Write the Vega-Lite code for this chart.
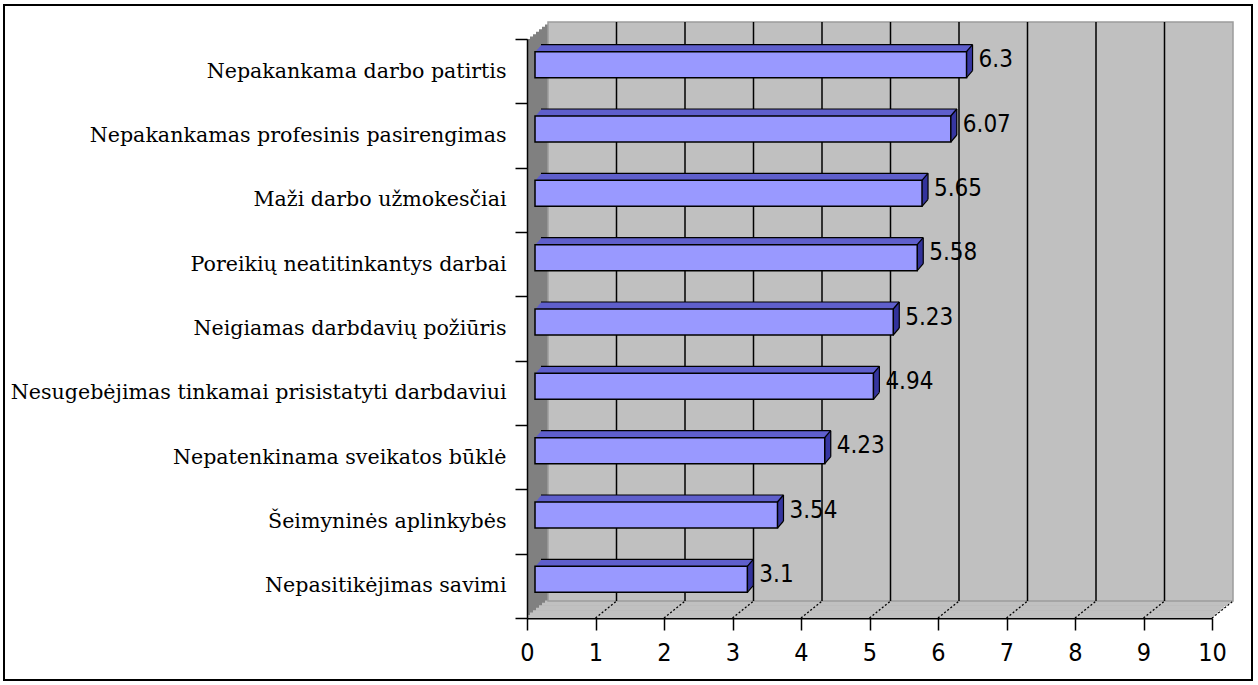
{
  "$schema": "https://vega.github.io/schema/vega-lite/v6.json",
  "width": 1248,
  "height": 675,
  "autosize": "none",
  "padding": {"left": 4, "top": 5, "right": 6, "bottom": 5},
  "background": "white",
  "config": {
    "view": {"stroke": "black", "strokeWidth": 2},
    "axis": {"grid": false, "domainColor": "black", "tickColor": "black", "labelColor": "black"}
  },
  "datasets": {
    "causes": [
      {"cause": "Nepakankama darbo patirtis", "value": 6.3},
      {"cause": "Nepakankamas profesinis pasirengimas", "value": 6.07},
      {"cause": "Maži darbo užmokesčiai", "value": 5.65},
      {"cause": "Poreikių neatitinkantys darbai", "value": 5.58},
      {"cause": "Neigiamas darbdavių požiūris", "value": 5.23},
      {"cause": "Nesugebėjimas tinkamai prisistatyti darbdaviui", "value": 4.94},
      {"cause": "Nepatenkinama sveikatos būklė", "value": 4.23},
      {"cause": "Šeimyninės aplinkybės", "value": 3.54},
      {"cause": "Nepasitikėjimas savimi", "value": 3.1}
    ],
    "ticks": [{"t": 1}, {"t": 2}, {"t": 3}, {"t": 4}, {"t": 5}, {"t": 6}, {"t": 7}, {"t": 8}, {"t": 9}, {"t": 10}],
    "frame": [{}]
  },
  "layer": [
    {
      "data": {"name": "frame"},
      "mark": {"type": "rect", "fill": "#808080", "xOffset": 0, "x2Offset": 0, "yOffset": 0, "y2Offset": 0},
      "encoding": {
        "x": {"datum": 0, "type": "quantitative",
          "scale": {"domain": [0, 10], "range": [523, 1208], "nice": false, "zero": false},
          "axis": {"orient": "bottom", "offset": -62, "title": null, "values": [0, 1, 2, 3, 4, 5, 6, 7, 8, 9, 10], "format": "d",
            "tickSize": 12, "tickWidth": 1.5, "domainWidth": 2, "labelPadding": 10, "labelFlush": false,
            "labelFont": "'Liberation Sans Narrow', 'DejaVu Sans Condensed', 'Liberation Sans', sans-serif", "labelFontSize": 25}},
        "x2": {"datum": 10},
        "y": {"datum": "Nepakankama darbo patirtis", "type": "nominal", "bandPosition": 0,
          "scale": {"domain": ["Nepakankama darbo patirtis", "Nepakankamas profesinis pasirengimas", "Maži darbo užmokesčiai", "Poreikių neatitinkantys darbai", "Neigiamas darbdavių požiūris", "Nesugebėjimas tinkamai prisistatyti darbdaviui", "Nepatenkinama sveikatos būklė", "Šeimyninės aplinkybės", "Nepasitikėjimas savimi"],
            "range": [34, 613], "paddingInner": 0, "paddingOuter": 0},
          "axis": {"orient": "left", "offset": -523, "title": null, "tickBand": "extent", "tickSize": 12, "tickWidth": 1.5,
            "domainWidth": 1.5, "labelPadding": 9, "labelLimit": 0, "labelFont": "DejaVu Serif", "labelFontSize": 20.6}},
        "y2": {"datum": "Nepasitikėjimas savimi", "bandPosition": 1}
      }
    },
    {"data": {"name": "frame"}, "mark": {"type": "rect", "fill": "#808080", "xOffset": 3, "x2Offset": 3, "yOffset": -2.43, "y2Offset": -2.43},
     "encoding": {"x": {"datum": 0, "type": "quantitative"}, "x2": {"datum": 10}, "y": {"datum": "Nepakankama darbo patirtis", "type": "nominal", "bandPosition": 0}, "y2": {"datum": "Nepasitikėjimas savimi", "bandPosition": 1}}},
    {"data": {"name": "frame"}, "mark": {"type": "rect", "fill": "#808080", "xOffset": 6, "x2Offset": 6, "yOffset": -4.86, "y2Offset": -4.86},
     "encoding": {"x": {"datum": 0, "type": "quantitative"}, "x2": {"datum": 10}, "y": {"datum": "Nepakankama darbo patirtis", "type": "nominal", "bandPosition": 0}, "y2": {"datum": "Nepasitikėjimas savimi", "bandPosition": 1}}},
    {"data": {"name": "frame"}, "mark": {"type": "rect", "fill": "#808080", "xOffset": 9, "x2Offset": 9, "yOffset": -7.29, "y2Offset": -7.29},
     "encoding": {"x": {"datum": 0, "type": "quantitative"}, "x2": {"datum": 10}, "y": {"datum": "Nepakankama darbo patirtis", "type": "nominal", "bandPosition": 0}, "y2": {"datum": "Nepasitikėjimas savimi", "bandPosition": 1}}},
    {"data": {"name": "frame"}, "mark": {"type": "rect", "fill": "#808080", "xOffset": 12, "x2Offset": 12, "yOffset": -9.71, "y2Offset": -9.71},
     "encoding": {"x": {"datum": 0, "type": "quantitative"}, "x2": {"datum": 10}, "y": {"datum": "Nepakankama darbo patirtis", "type": "nominal", "bandPosition": 0}, "y2": {"datum": "Nepasitikėjimas savimi", "bandPosition": 1}}},
    {"data": {"name": "frame"}, "mark": {"type": "rect", "fill": "#808080", "xOffset": 15, "x2Offset": 15, "yOffset": -12.14, "y2Offset": -12.14},
     "encoding": {"x": {"datum": 0, "type": "quantitative"}, "x2": {"datum": 10}, "y": {"datum": "Nepakankama darbo patirtis", "type": "nominal", "bandPosition": 0}, "y2": {"datum": "Nepasitikėjimas savimi", "bandPosition": 1}}},
    {"data": {"name": "frame"}, "mark": {"type": "rect", "fill": "#808080", "xOffset": 18, "x2Offset": 18, "yOffset": -14.57, "y2Offset": -14.57},
     "encoding": {"x": {"datum": 0, "type": "quantitative"}, "x2": {"datum": 10}, "y": {"datum": "Nepakankama darbo patirtis", "type": "nominal", "bandPosition": 0}, "y2": {"datum": "Nepasitikėjimas savimi", "bandPosition": 1}}},

    {"data": {"name": "frame"}, "mark": {"type": "rect", "fill": "#c0c0c0", "xOffset": 0, "x2Offset": 0, "yOffset": -3, "y2Offset": 0},
     "encoding": {"x": {"datum": 0, "type": "quantitative"}, "x2": {"datum": 10}, "y": {"datum": "Nepasitikėjimas savimi", "type": "nominal", "bandPosition": 1}, "y2": {"datum": "Nepasitikėjimas savimi", "bandPosition": 1}}},
    {"data": {"name": "frame"}, "mark": {"type": "rect", "fill": "#c0c0c0", "xOffset": 3, "x2Offset": 3, "yOffset": -5.43, "y2Offset": -2.43},
     "encoding": {"x": {"datum": 0, "type": "quantitative"}, "x2": {"datum": 10}, "y": {"datum": "Nepasitikėjimas savimi", "type": "nominal", "bandPosition": 1}, "y2": {"datum": "Nepasitikėjimas savimi", "bandPosition": 1}}},
    {"data": {"name": "frame"}, "mark": {"type": "rect", "fill": "#c0c0c0", "xOffset": 6, "x2Offset": 6, "yOffset": -7.86, "y2Offset": -4.86},
     "encoding": {"x": {"datum": 0, "type": "quantitative"}, "x2": {"datum": 10}, "y": {"datum": "Nepasitikėjimas savimi", "type": "nominal", "bandPosition": 1}, "y2": {"datum": "Nepasitikėjimas savimi", "bandPosition": 1}}},
    {"data": {"name": "frame"}, "mark": {"type": "rect", "fill": "#c0c0c0", "xOffset": 9, "x2Offset": 9, "yOffset": -10.29, "y2Offset": -7.29},
     "encoding": {"x": {"datum": 0, "type": "quantitative"}, "x2": {"datum": 10}, "y": {"datum": "Nepasitikėjimas savimi", "type": "nominal", "bandPosition": 1}, "y2": {"datum": "Nepasitikėjimas savimi", "bandPosition": 1}}},
    {"data": {"name": "frame"}, "mark": {"type": "rect", "fill": "#c0c0c0", "xOffset": 12, "x2Offset": 12, "yOffset": -12.71, "y2Offset": -9.71},
     "encoding": {"x": {"datum": 0, "type": "quantitative"}, "x2": {"datum": 10}, "y": {"datum": "Nepasitikėjimas savimi", "type": "nominal", "bandPosition": 1}, "y2": {"datum": "Nepasitikėjimas savimi", "bandPosition": 1}}},
    {"data": {"name": "frame"}, "mark": {"type": "rect", "fill": "#c0c0c0", "xOffset": 15, "x2Offset": 15, "yOffset": -15.14, "y2Offset": -12.14},
     "encoding": {"x": {"datum": 0, "type": "quantitative"}, "x2": {"datum": 10}, "y": {"datum": "Nepasitikėjimas savimi", "type": "nominal", "bandPosition": 1}, "y2": {"datum": "Nepasitikėjimas savimi", "bandPosition": 1}}},
    {"data": {"name": "frame"}, "mark": {"type": "rect", "fill": "#c0c0c0", "xOffset": 18, "x2Offset": 18, "yOffset": -17.57, "y2Offset": -14.57},
     "encoding": {"x": {"datum": 0, "type": "quantitative"}, "x2": {"datum": 10}, "y": {"datum": "Nepasitikėjimas savimi", "type": "nominal", "bandPosition": 1}, "y2": {"datum": "Nepasitikėjimas savimi", "bandPosition": 1}}},

    {"data": {"name": "frame"}, "mark": {"type": "rect", "fill": "#c0c0c0", "stroke": "#9c9c9c", "strokeWidth": 1.5, "xOffset": 21, "x2Offset": 21, "yOffset": -17, "y2Offset": -17},
     "encoding": {"x": {"datum": 0, "type": "quantitative"}, "x2": {"datum": 10}, "y": {"datum": "Nepakankama darbo patirtis", "type": "nominal", "bandPosition": 0}, "y2": {"datum": "Nepasitikėjimas savimi", "bandPosition": 1}}},

    {"data": {"name": "ticks"}, "transform": [{"filter": "datum.t < 10"}],
     "mark": {"type": "rule", "color": "black", "strokeWidth": 1.5, "xOffset": 21, "yOffset": -17, "y2Offset": -17},
     "encoding": {"x": {"field": "t", "type": "quantitative", "axis": {"title": null}}, "y": {"datum": "Nepakankama darbo patirtis", "type": "nominal", "bandPosition": 0}, "y2": {"datum": "Nepasitikėjimas savimi", "bandPosition": 1}}},

    {"data": {"name": "ticks"},
     "mark": {"type": "rule", "color": "black", "strokeWidth": 1.3, "strokeDash": [2, 2], "xOffset": 0, "x2Offset": 21, "yOffset": 0, "y2Offset": -17},
     "encoding": {"x": {"field": "t", "type": "quantitative", "axis": {"title": null}}, "x2": {"field": "t"}, "y": {"datum": "Nepasitikėjimas savimi", "type": "nominal", "bandPosition": 1}, "y2": {"datum": "Nepasitikėjimas savimi", "bandPosition": 1}}},

    {"data": {"name": "causes"}, "mark": {"type": "rect", "fill": "#5f5fcc", "height": 26, "xOffset": 9, "x2Offset": 9, "yOffset": -7.67},
     "encoding": {"x": {"field": "value", "type": "quantitative", "axis": {"title": null}}, "x2": {"datum": 0}, "y": {"field": "cause", "type": "nominal", "axis": {"title": null}}}},
    {"data": {"name": "causes"}, "mark": {"type": "rect", "fill": "#5f5fcc", "height": 26, "xOffset": 10, "x2Offset": 10, "yOffset": -8.83},
     "encoding": {"x": {"field": "value", "type": "quantitative", "axis": {"title": null}}, "x2": {"datum": 0}, "y": {"field": "cause", "type": "nominal", "axis": {"title": null}}}},
    {"data": {"name": "causes"}, "mark": {"type": "rect", "fill": "#5f5fcc", "height": 26, "xOffset": 11, "x2Offset": 11, "yOffset": -10},
     "encoding": {"x": {"field": "value", "type": "quantitative", "axis": {"title": null}}, "x2": {"datum": 0}, "y": {"field": "cause", "type": "nominal", "axis": {"title": null}}}},
    {"data": {"name": "causes"}, "mark": {"type": "rect", "fill": "#5f5fcc", "height": 26, "xOffset": 12, "x2Offset": 12, "yOffset": -11.17},
     "encoding": {"x": {"field": "value", "type": "quantitative", "axis": {"title": null}}, "x2": {"datum": 0}, "y": {"field": "cause", "type": "nominal", "axis": {"title": null}}}},
    {"data": {"name": "causes"}, "mark": {"type": "rect", "fill": "#5f5fcc", "height": 26, "xOffset": 13, "x2Offset": 13, "yOffset": -12.33},
     "encoding": {"x": {"field": "value", "type": "quantitative", "axis": {"title": null}}, "x2": {"datum": 0}, "y": {"field": "cause", "type": "nominal", "axis": {"title": null}}}},
    {"data": {"name": "causes"}, "mark": {"type": "rect", "fill": "#5f5fcc", "height": 26, "xOffset": 14, "x2Offset": 14, "yOffset": -13.5},
     "encoding": {"x": {"field": "value", "type": "quantitative", "axis": {"title": null}}, "x2": {"datum": 0}, "y": {"field": "cause", "type": "nominal", "axis": {"title": null}}}},

    {"data": {"name": "causes"}, "mark": {"type": "rect", "fill": "#33339c", "height": 26, "xOffset": 7.7, "x2Offset": 9, "yOffset": -7.67},
     "encoding": {"x": {"field": "value", "type": "quantitative", "axis": {"title": null}}, "x2": {"field": "value"}, "y": {"field": "cause", "type": "nominal", "axis": {"title": null}}}},
    {"data": {"name": "causes"}, "mark": {"type": "rect", "fill": "#33339c", "height": 26, "xOffset": 8.7, "x2Offset": 10, "yOffset": -8.83},
     "encoding": {"x": {"field": "value", "type": "quantitative", "axis": {"title": null}}, "x2": {"field": "value"}, "y": {"field": "cause", "type": "nominal", "axis": {"title": null}}}},
    {"data": {"name": "causes"}, "mark": {"type": "rect", "fill": "#33339c", "height": 26, "xOffset": 9.7, "x2Offset": 11, "yOffset": -10},
     "encoding": {"x": {"field": "value", "type": "quantitative", "axis": {"title": null}}, "x2": {"field": "value"}, "y": {"field": "cause", "type": "nominal", "axis": {"title": null}}}},
    {"data": {"name": "causes"}, "mark": {"type": "rect", "fill": "#33339c", "height": 26, "xOffset": 10.7, "x2Offset": 12, "yOffset": -11.17},
     "encoding": {"x": {"field": "value", "type": "quantitative", "axis": {"title": null}}, "x2": {"field": "value"}, "y": {"field": "cause", "type": "nominal", "axis": {"title": null}}}},
    {"data": {"name": "causes"}, "mark": {"type": "rect", "fill": "#33339c", "height": 26, "xOffset": 11.7, "x2Offset": 13, "yOffset": -12.33},
     "encoding": {"x": {"field": "value", "type": "quantitative", "axis": {"title": null}}, "x2": {"field": "value"}, "y": {"field": "cause", "type": "nominal", "axis": {"title": null}}}},
    {"data": {"name": "causes"}, "mark": {"type": "rect", "fill": "#33339c", "height": 26, "xOffset": 12.7, "x2Offset": 14, "yOffset": -13.5},
     "encoding": {"x": {"field": "value", "type": "quantitative", "axis": {"title": null}}, "x2": {"field": "value"}, "y": {"field": "cause", "type": "nominal", "axis": {"title": null}}}},

    {"data": {"name": "causes"}, "mark": {"type": "rule", "color": "black", "strokeWidth": 1.2, "xOffset": 14, "x2Offset": 14, "yOffset": -26.5},
     "encoding": {"x": {"field": "value", "type": "quantitative", "axis": {"title": null}}, "x2": {"datum": 0}, "y": {"field": "cause", "type": "nominal", "axis": {"title": null}}}},
    {"data": {"name": "causes"}, "mark": {"type": "rule", "color": "black", "strokeWidth": 1.2, "xOffset": 14, "yOffset": -26.5, "y2Offset": -0.5},
     "encoding": {"x": {"field": "value", "type": "quantitative", "axis": {"title": null}}, "y": {"field": "cause", "type": "nominal", "axis": {"title": null}}, "y2": {"field": "cause"}}},
    {"data": {"name": "causes"}, "mark": {"type": "rule", "color": "black", "strokeWidth": 1.2, "xOffset": 8, "x2Offset": 14, "yOffset": -19.5, "y2Offset": -26.5},
     "encoding": {"x": {"field": "value", "type": "quantitative", "axis": {"title": null}}, "x2": {"field": "value"}, "y": {"field": "cause", "type": "nominal", "axis": {"title": null}}, "y2": {"field": "cause"}}},
    {"data": {"name": "causes"}, "mark": {"type": "rule", "color": "black", "strokeWidth": 1.2, "xOffset": 8, "x2Offset": 14, "yOffset": 6.5, "y2Offset": -0.5},
     "encoding": {"x": {"field": "value", "type": "quantitative", "axis": {"title": null}}, "x2": {"field": "value"}, "y": {"field": "cause", "type": "nominal", "axis": {"title": null}}, "y2": {"field": "cause"}}},

    {"data": {"name": "causes"}, "mark": {"type": "rect", "fill": "#9999ff", "stroke": "black", "strokeWidth": 1.5, "height": 26, "xOffset": 8, "x2Offset": 8, "yOffset": -6.5},
     "encoding": {"x": {"field": "value", "type": "quantitative", "axis": {"title": null}}, "x2": {"datum": 0}, "y": {"field": "cause", "type": "nominal", "axis": {"title": null}}}},

    {"data": {"name": "causes"},
     "mark": {"type": "text", "align": "left", "baseline": "middle", "dx": 20, "dy": -11, "color": "black",
       "font": "'Liberation Sans Narrow', 'DejaVu Sans Condensed', 'Liberation Sans', sans-serif", "fontSize": 24},
     "encoding": {"x": {"field": "value", "type": "quantitative", "axis": {"title": null}}, "y": {"field": "cause", "type": "nominal", "axis": {"title": null}},
       "text": {"field": "value", "type": "quantitative", "format": ".2~f"}}}
  ]
}
